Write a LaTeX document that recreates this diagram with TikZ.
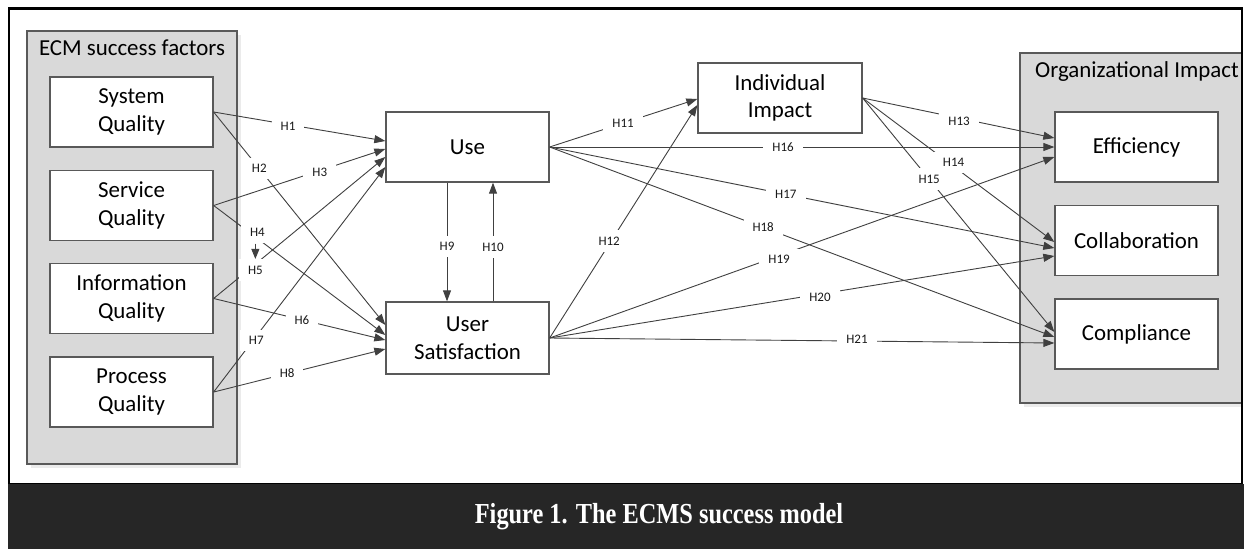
\documentclass[tikz,border=0pt]{standalone}
\usepackage{fontspec}
\setmainfont{Carlito}
\newfontfamily\capfont{Liberation Serif}
\usetikzlibrary{arrows.meta,calc}
\definecolor{ln}{HTML}{404040}
\definecolor{bd}{HTML}{595959}
\definecolor{grp}{HTML}{D9D9D9}
\definecolor{shd}{HTML}{EBEBEB}
\definecolor{band}{HTML}{262626}
\begin{document}
\begin{tikzpicture}[x=1pt,y=-1pt,
  box/.style={draw=bd, line width=1.3pt, fill=white, minimum width=163pt, minimum height=70pt,
    align=center, inner sep=0pt, font=\fontsize{22.9}{27.7}\selectfont},
  grpbox/.style={draw=bd, line width=1.2pt, fill=grp},
  arr/.style={draw=ln, line width=0.9pt, -{Triangle[length=11pt,width=8pt]}},
  lab/.style={fill=white, inner xsep=9pt, inner ysep=6.5pt, text=black!90,
    font=\fontsize{13}{15}\selectfont},
  ttl/.style={inner sep=0pt, font=\fontsize{22.9}{27.7}\selectfont}
]
\useasboundingbox (0,0) rectangle (1247,549);
\fill[white] (0,0) rectangle (1247,549);

% group boxes
\fill[shd] (31,35) rectangle (241,468);
\draw[grpbox] (27,31) rectangle (237,464);
\node[ttl] (t1) at (132,48) {ECM success factors};
\fill[shd] (1024,57) rectangle (1242,407);
\draw[grpbox] (1020,53) rectangle (1242,403);
\node[ttl, anchor=west] (t2) at (1035,72) {Organizational Impact};

% boxes
\node[box] (sysq) at (131.5,112) {System\\Quality};
\node[box] (serq) at (131.5,205.5) {Service\\Quality};
\node[box] (infq) at (131.5,298.5) {Information\\Quality};
\node[box] (proq) at (131.5,392) {Process\\Quality};
\node[box] (use) at (467.5,147) {Use};
\node[box, minimum height=72pt] (us) at (467.5,338) {User\\Satisfaction};
\node[box, minimum width=164pt] (ii) at (780,98) {Individual\\Impact};
\node[box] (eff) at (1136.5,147) {Efficiency};
\node[box] (col) at (1136.5,240.5) {Collaboration};
\node[box] (com) at (1136.5,334) {Compliance};

% connectors into Use / User Satisfaction
\draw[arr] (sysq.east) -- ($(use.west)+(0,-6)$) node[lab,pos=0.4335,yshift=-2pt] (h1) {H1};
\draw[arr] (sysq.east) -- ($(us.west)+(0,-13)$) node[lab,pos=0.266] (h2) {H2};
\draw[arr] (serq.east) -- ($(use.west)+(0,2)$) node[lab,pos=0.618,yshift=-2pt] (h3) {H3};
\draw[arr] (serq.east) -- ($(us.west)+(0,-3)$) node[lab,pos=0.208,xshift=8pt] (h4) {H4};
\draw[arr] (infq.east) -- ($(use.west)+(0,10)$) node[lab,pos=0.208,xshift=6pt,yshift=-1pt] (h5) {H5};
\draw[arr] (infq.east) -- ($(us.west)+(0,2)$) node[lab,pos=0.514] (h6) {H6};
\draw[arr] (proq.east) -- ($(use.west)+(0,20)$) node[lab,pos=0.228,xshift=3.5pt] (h7) {H7};
\draw[arr] (proq.east) -- ($(us.west)+(0,11)$) node[lab,pos=0.428] (h8) {H8};

% Use <-> User Satisfaction
\draw[arr] ($(use.south)+(-20.5,0)$) -- ($(us.north)+(-20.5,0)$) node[lab,pos=0.54] (h9) {H9};
\draw[arr] ($(us.north)+(25.5,0)$) -- ($(use.south)+(25.5,0)$) node[lab,pos=0.458] (h10) {H10};

% to Individual Impact
\draw[arr] (use.east) -- ($(ii.west)+(0,1)$) node[lab,pos=0.497] (h11) {H11};
\draw[arr] (us.east) -- ($(ii.west)+(0,7)$) node[lab,pos=0.403,yshift=3pt] (h12) {H12};

% Individual Impact to organizational impacts
\draw[arr] (ii.east) -- ($(eff.west)+(0,-9)$) node[lab,pos=0.503,yshift=-3pt] (h13) {H13};
\draw[arr] (ii.east) -- ($(col.west)+(0,1.5)$) node[lab,pos=0.448,xshift=5pt] (h14) {H14};
\draw[arr] (ii.east) -- ($(com.west)+(0,-2)$) node[lab,pos=0.347] (h15) {H15};

% Use to organizational impacts
\draw[arr] (use.east) -- (eff.west) node[lab,pos=0.4625] (h16) {H16};
\draw[arr] (use.east) -- ($(col.west)+(0,7.5)$) node[lab,pos=0.468] (h17) {H17};
\draw[arr] (use.east) -- ($(com.west)+(0,3)$) node[lab,pos=0.423] (h18) {H18};

% User Satisfaction to organizational impacts
\draw[arr] (us.east) -- ($(eff.west)+(0,10)$) node[lab,pos=0.4545,yshift=-4pt] (h19) {H19};
\draw[arr] (us.east) -- ($(col.west)+(0,15.5)$) node[lab,pos=0.5356,yshift=-3pt] (h20) {H20};
\draw[arr] (us.east) -- ($(com.west)+(0,9)$) node[lab,pos=0.609,yshift=2pt] (h21) {H21};

% small arrow between H4 and H5
\draw[arr, -{Triangle[length=10pt,width=8pt]}] ([xshift=-2pt]h4.south) -- ([xshift=-2pt]h4.south |- h5.north);

% frame and caption
\draw[black, line width=2.5pt] (9,8.5) rectangle (1242,484);
\fill[band] (8,484) rectangle (1243.5,549);
\node[text=white, inner sep=0pt, font=\capfont\bfseries\fontsize{29}{32}\selectfont] (cap) at (659,517) {\scalebox{0.84}[1]{Figure 1. The ECMS success model}};
\end{tikzpicture}
\end{document}
